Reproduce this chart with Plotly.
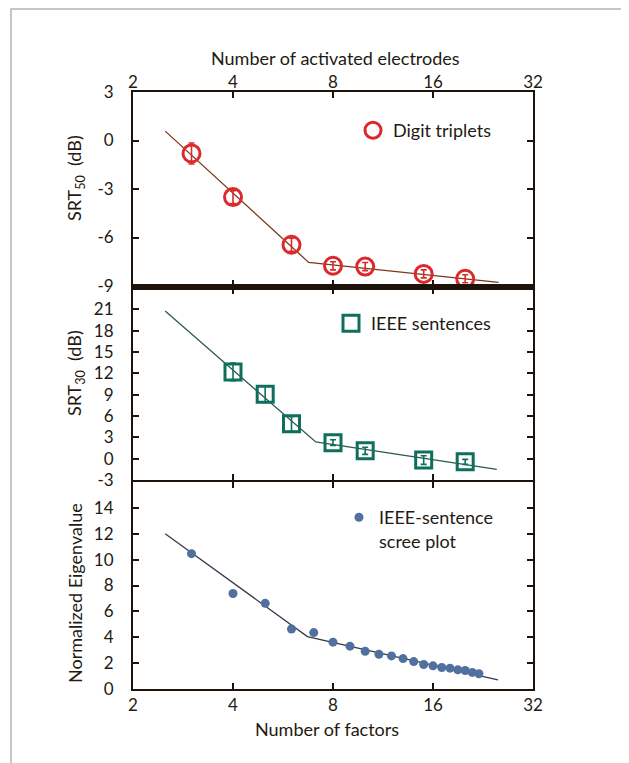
import math
import plotly.graph_objects as go

# ---------------- data ----------------
x_ticks = [2, 4, 8, 16, 32]

# Digit triplets (top panel)
digit_x = [3, 4, 6, 8, 10, 15, 20]
digit_srt50 = [-0.8, -3.5, -6.45, -7.75, -7.8, -8.25, -8.55]
digit_err = [0.65, 0.4, 0.4, 0.25, 0.25, 0.25, 0.25]
digit_fit_x = [2.5, 6.76, 25.2]
digit_fit_y = [0.58, -7.54, -8.77]

# IEEE sentences (middle panel)
ieee_x = [4, 5, 6, 8, 10, 15, 20]
ieee_srt30 = [12.2, 9.05, 4.9, 2.25, 1.1, -0.2, -0.45]
ieee_err = [1.25, 1.15, 1.05, 0.4, 0.5, 0.6, 0.35]
ieee_fit_x = [2.5, 7.1, 24.9]
ieee_fit_y = [20.75, 2.35, -1.52]

# IEEE-sentence scree plot (bottom panel)
scree_x = list(range(3, 23))
scree_eig = [10.46, 7.38, 6.62, 4.64, 4.36, 3.62, 3.31, 2.92, 2.69, 2.56,
             2.35, 2.12, 1.89, 1.79, 1.66, 1.61, 1.48, 1.43, 1.28, 1.18]
scree_fit_x = [2.5, 6.7, 25.1]
scree_fit_y = [12.0, 4.05, 0.7]

y1_ticks = [-9, -6, -3, 0, 3]
y2_ticks = [-3, 0, 3, 6, 9, 12, 15, 18, 21]
y3_ticks = [0, 2, 4, 6, 8, 10, 12, 14]

# ---------------- style ----------------
FONT = "Lato"
TXT = "#231a12"
AX = "#1e130a"
RED = "#dc2a2c"
TEAL = "#0e6f5c"
BLUE = "#52709f"

OFF = 8                       # page body margin
W, H = 629 - OFF, 763 - OFF
PLOT_L, PLOT_R, PLOT_T, PLOT_B = 133, 533, 92, 689   # screen pixels
L, T = PLOT_L - OFF, PLOT_T - OFF
R = W - L - (PLOT_R - PLOT_L)
B = H - T - (PLOT_B - PLOT_T)
PW, PH = PLOT_R - PLOT_L, PLOT_B - PLOT_T


def px_x(px):
    return (px - PLOT_L) / PW


def px_y(py):
    return (PLOT_B - py) / PH


d_top = [px_y(286), 1.0]
d_mid = [px_y(480), px_y(288)]
d_bot = [0.0, px_y(482)]

fig = go.Figure()

# top panel
fig.add_trace(go.Scatter(x=digit_fit_x, y=digit_fit_y, mode="lines",
                         line=dict(color="#7a3a1c", width=1.3),
                         showlegend=False, xaxis="x", yaxis="y", hoverinfo="skip"))
fig.add_trace(go.Scatter(x=digit_x, y=digit_srt50, mode="markers", name="Digit triplets",
                         marker=dict(symbol="circle-open", size=17, color=RED,
                                     line=dict(width=3, color=RED)),
                         error_y=dict(type="data", array=digit_err, color=RED,
                                      thickness=1.6, width=3),
                         cliponaxis=False, xaxis="x", yaxis="y", legend="legend"))

# middle panel
fig.add_trace(go.Scatter(x=ieee_fit_x, y=ieee_fit_y, mode="lines",
                         line=dict(color="#2d5a50", width=1.3),
                         showlegend=False, xaxis="x2", yaxis="y2", hoverinfo="skip"))
fig.add_trace(go.Scatter(x=ieee_x, y=ieee_srt30, mode="markers", name="IEEE sentences",
                         marker=dict(symbol="square-open", size=16, color=TEAL,
                                     line=dict(width=3, color=TEAL)),
                         error_y=dict(type="data", array=ieee_err, color=TEAL,
                                      thickness=1.6, width=3),
                         cliponaxis=False, xaxis="x2", yaxis="y2", legend="legend2"))

# bottom panel
fig.add_trace(go.Scatter(x=scree_fit_x, y=scree_fit_y, mode="lines",
                         line=dict(color="#363b4a", width=1.3),
                         showlegend=False, xaxis="x3", yaxis="y3", hoverinfo="skip"))
fig.add_trace(go.Scatter(x=scree_x, y=scree_eig, mode="markers",
                         name="IEEE-sentence<br>scree plot",
                         marker=dict(symbol="circle", size=9, color=BLUE),
                         cliponaxis=False, xaxis="x3", yaxis="y3", legend="legend3"))

xr = [math.log10(2), math.log10(32)]
common_x = dict(type="log", range=xr, tickvals=x_ticks, ticktext=[str(v) for v in x_ticks],
                ticks="inside", ticklen=6, tickwidth=1.5, tickcolor=AX,
                showline=True, linecolor=AX, linewidth=2, mirror="ticks",
                showgrid=False, zeroline=False,
                tickfont=dict(family=FONT, size=17, color=TXT))
common_y = dict(ticks="inside", ticklen=6, tickwidth=1.5, tickcolor=AX,
                showline=True, linecolor=AX, linewidth=2, mirror="ticks",
                showgrid=False, zeroline=False, ticklabelstandoff=14,
                tickfont=dict(family=FONT, size=17, color=TXT))


def labels(vals):
    return [str(v) for v in vals]


leg_font = dict(family=FONT, size=18, color=TXT)
fig.update_layout(
    width=W, height=H,
    margin=dict(l=L, r=R, t=T, b=B, pad=0),
    paper_bgcolor="white", plot_bgcolor="white",
    font=dict(family=FONT, size=17, color=TXT),
    xaxis=dict(**common_x, anchor="y", side="top", domain=[0, 1], ticklabelstandoff=-5),
    xaxis2=dict(**common_x, anchor="y2", showticklabels=False, matches="x", domain=[0, 1]),
    xaxis3=dict(**common_x, anchor="y3", side="bottom", matches="x", domain=[0, 1]),
    yaxis=dict(**common_y, anchor="x", domain=d_top, range=[-9, 3],
               tickvals=y1_ticks, ticktext=labels(y1_ticks)),
    yaxis2=dict(**common_y, anchor="x2", domain=d_mid, range=[-3, 24],
                tickvals=y2_ticks, ticktext=labels(y2_ticks)),
    yaxis3=dict(**common_y, anchor="x3", domain=d_bot, range=[0, 16],
                tickvals=y3_ticks, ticktext=labels(y3_ticks)),
    legend=dict(x=px_x(353), y=px_y(112), xanchor="left", yanchor="top",
                bgcolor="rgba(0,0,0,0)", font=leg_font, itemsizing="trace"),
    legend2=dict(x=px_x(331), y=px_y(305), xanchor="left", yanchor="top",
                 bgcolor="rgba(0,0,0,0)", font=leg_font, itemsizing="trace"),
    legend3=dict(x=px_x(339), y=px_y(499), xanchor="left", yanchor="top",
                 bgcolor="rgba(0,0,0,0)", font=leg_font, itemsizing="trace", valign="top"),
    showlegend=True,
)

ann = dict(xref="paper", yref="paper", showarrow=False, xanchor="center", yanchor="middle",
           font=dict(family=FONT, size=18, color=TXT))
fig.add_annotation(text="Number of activated electrodes", x=px_x(335), y=px_y(58), **ann)
fig.add_annotation(text="Number of factors", x=px_x(327), y=px_y(729), **ann)
fig.add_annotation(text="SRT<sub>50</sub>  (dB)", x=px_x(75), y=px_y(178), textangle=-90, **ann)
fig.add_annotation(text="SRT<sub>30</sub>  (dB)", x=px_x(75), y=px_y(373), textangle=-90, **ann)
fig.add_annotation(text="Normalized Eigenvalue", x=px_x(75), y=px_y(593), textangle=-90, **ann)

# thick separator under the top panel
fig.add_shape(type="line", xref="paper", yref="paper", x0=0, x1=1,
              y0=px_y(287), y1=px_y(287), line=dict(color=AX, width=6), layer="above")
# outer light-grey frame
fig.add_shape(type="rect", xref="paper", yref="paper",
              x0=px_x(11), x1=px_x(626.5), y0=px_y(775), y1=px_y(9),
              line=dict(color="#b4b4b4", width=1.5), layer="below")

fig.write_html("out.html")
